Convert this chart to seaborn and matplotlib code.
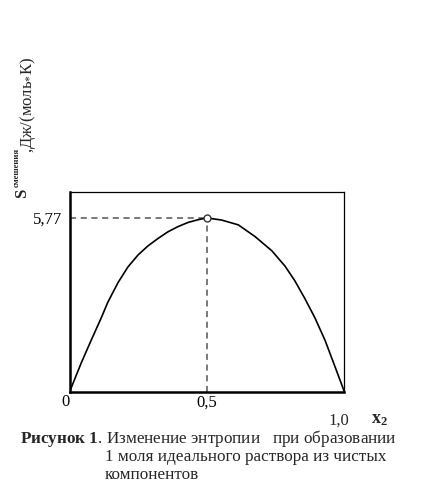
import matplotlib
matplotlib.use("Agg")
import matplotlib.pyplot as plt
import seaborn as sns
import pandas as pd

# Mole fraction of the second component and the entropy of mixing, J/(mol*K)
x2 = [0.0, 0.042, 0.079, 0.115, 0.139, 0.176, 0.212, 0.249, 0.285, 0.322,
      0.358, 0.394, 0.431, 0.467, 0.500, 0.553, 0.614, 0.675, 0.736, 0.784,
      0.820, 0.857, 0.893, 0.930, 0.966, 1.0]
s_mix = [0.0, 0.95, 1.72, 2.45, 2.97, 3.62, 4.14, 4.54, 4.84, 5.09,
         5.31, 5.48, 5.62, 5.71, 5.77, 5.70, 5.54, 5.15, 4.68, 4.17,
         3.68, 3.08, 2.45, 1.70, 0.83, 0.0]
peak_x = 0.5
peak_s = 5.77
ytick_labels = ["5,77"]
xtick_labels = ["0", "0,5"]
x_end_label = "1,0"

sns.set_theme(style="white")
plt.rcParams["font.family"] = ["Liberation Serif", "DejaVu Serif"]
plt.rcParams["mathtext.fontset"] = "custom"
plt.rcParams["mathtext.rm"] = "Liberation Serif"
plt.rcParams["mathtext.it"] = "Liberation Serif:italic"
plt.rcParams["mathtext.bf"] = "Liberation Serif:bold"

W, H = 422, 490
FS = 12
fig = plt.figure(figsize=(W / 100, H / 100), dpi=100)
ax = fig.add_axes([0.165, 0.2006, 0.651, 0.4075])


def fx(px):
    return px / W


def fy(py):
    return 1 - py / H


df = pd.DataFrame({"x2": x2, "S": s_mix})
sns.lineplot(data=df, x="x2", y="S", ax=ax, color="black", lw=1.2,
             sort=False, estimator=None)

# guide lines to the maximum
ax.plot([0, peak_x], [peak_s, peak_s], color="#555555", lw=1.1,
        dashes=(4, 3), zorder=1)
ax.plot([peak_x, peak_x], [0, peak_s], color="#555555", lw=1.1,
        dashes=(4, 3), zorder=1)
ax.plot([peak_x], [peak_s], marker="o", ms=5, mfc="white", mec="#333333",
        mew=1.0, zorder=5)

ax.set_xlim(0, 1)
ax.set_ylim(0, 6.63)
ax.set_xlabel("")
ax.set_ylabel("")

ax.set_yticks([peak_s])
ax.set_yticklabels(ytick_labels, fontsize=FS)
ax.set_xticks([0, peak_x])
ax.set_xticklabels(xtick_labels, fontsize=FS)
ax.tick_params(axis="both", length=0, colors="black")
ax.tick_params(axis="y", pad=5)
ax.tick_params(axis="x", pad=2)
for lbl in ax.get_xticklabels()[:1]:
    lbl.set_ha("right")

for side in ["left", "bottom"]:
    ax.spines[side].set_linewidth(1.8)
    ax.spines[side].set_color("black")
for side in ["top", "right"]:
    ax.spines[side].set_linewidth(0.9)
    ax.spines[side].set_color("black")

ax.annotate(x_end_label, xy=(1.0, 0), xycoords=("data", "axes fraction"),
            xytext=(-4, -15), textcoords="offset points",
            ha="center", va="top", fontsize=FS)
ax.annotate(r"$\mathbf{x}_{\mathbf{2}}$", xy=(1.0, 0),
            xycoords=("data", "axes fraction"),
            xytext=(25, -14), textcoords="offset points",
            ha="center", va="top", fontsize=FS + 1)

# vertical axis title, assembled from pieces reading bottom to top
rot = dict(rotation=90, rotation_mode="anchor", ha="left", va="baseline")
fig.text(fx(26), fy(198), "S", fontsize=FS, fontweight="bold", **rot)
fig.text(fx(19), fy(187), "смешения", fontsize=6.2, fontweight="bold", **rot)
fig.text(fx(32), fy(153), ",Дж/(моль$_{*}$К)", fontsize=FS, **rot)

# caption
fig.text(fx(20), fy(443),
         r"$\mathbf{Рисунок\ 1}$. Изменение энтропии   при образовании",
         ha="left", va="baseline", fontsize=FS + 0.3)
fig.text(fx(105), fy(461), "1 моля идеального раствора из чистых",
         ha="left", va="baseline", fontsize=FS + 0.3)
fig.text(fx(105), fy(479), "компонентов",
         ha="left", va="baseline", fontsize=FS + 0.3)

fig.savefig("out.png", dpi=100)
